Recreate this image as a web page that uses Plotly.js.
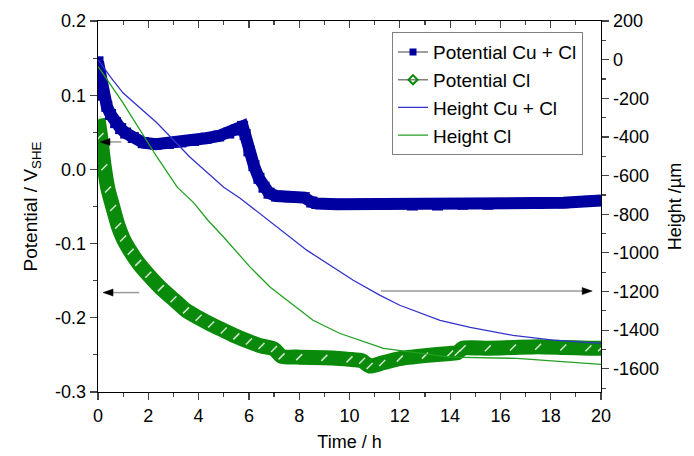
<!DOCTYPE html>
<html>
<head>
<meta charset="utf-8">
<script src="https://cdn.plot.ly/plotly-3.0.1.min.js"></script>
<style>html,body{margin:0;padding:0;background:#fff}#chart{width:694px;height:456px}</style>
</head>
<body>
<div id="chart"></div>
<script>
// Potential Cu + Cl (V_SHE)
var potCuTime = [0, 0.1, 0.2, 0.35, 0.5, 0.7, 0.9, 1.1, 1.4, 1.8, 2.3, 2.8, 3.3, 3.8, 4.3, 4.8, 5.2, 5.5, 5.75, 5.85, 6.0, 6.2, 6.4, 6.6, 6.8, 7.1, 7.6, 8.2, 8.5, 8.7, 9.5, 10.5, 11.5, 12.5, 13.5, 14.5, 15.5, 16.5, 17.5, 18.5, 19.5, 20];
var potCu = [0.145, 0.125, 0.100, 0.085, 0.074, 0.063, 0.055, 0.049, 0.043, 0.036, 0.034, 0.035, 0.037, 0.039, 0.042, 0.045, 0.049, 0.053, 0.058, 0.047, 0.025, 0.005, -0.012, -0.024, -0.032, -0.036, -0.037, -0.038, -0.044, -0.046, -0.047, -0.047, -0.047, -0.048, -0.048, -0.047, -0.047, -0.046, -0.046, -0.045, -0.043, -0.042];
// Potential Cl (V_SHE)
var potClTime = [0, 0.1, 0.25, 0.4, 0.6, 0.8, 1.0, 1.3, 1.6, 2.0, 2.5, 3.0, 3.5, 4.0, 4.5, 5.0, 5.5, 6.0, 6.5, 7.0, 7.3, 8.0, 9.0, 10.0, 10.5, 10.8, 11.3, 12.0, 13.0, 14.0, 14.3, 14.5, 15.5, 16.5, 17.5, 18.5, 19.5, 20];
var potCl = [0.068, 0.045, 0.003, -0.027, -0.052, -0.076, -0.093, -0.111, -0.126, -0.142, -0.160, -0.175, -0.190, -0.200, -0.209, -0.217, -0.225, -0.232, -0.238, -0.242, -0.252, -0.253, -0.254, -0.256, -0.258, -0.265, -0.261, -0.255, -0.251, -0.248, -0.247, -0.241, -0.241, -0.240, -0.239, -0.240, -0.241, -0.241];
// Height Cu + Cl (um)
var hCuTime = [0, 0.5, 1.0, 2.35, 3.66, 5.0, 5.65, 6.73, 8.3, 10.15, 11.2, 12.0, 13.6, 14.8, 16.5, 18.1, 20];
var hCu = [0, -90, -173, -328, -505, -660, -717, -825, -986, -1142, -1219, -1271, -1349, -1385, -1427, -1452, -1468];
// Height Cl (um)
var hClTime = [0, 1.0, 2.35, 3.15, 3.8, 4.37, 5.0, 6.05, 6.85, 8.55, 9.6, 11.35, 14.0, 16.65, 20];
var hCl = [-35, -225, -505, -660, -740, -831, -919, -1074, -1178, -1349, -1416, -1494, -1540, -1546, -1577];

var seriesNames = ['Potential Cu + Cl', 'Potential Cl', 'Height Cu + Cl', 'Height Cl'];
var xTicks = [0, 2, 4, 6, 8, 10, 12, 14, 16, 18, 20];
var yTicks = [0.2, 0.1, 0.0, -0.1, -0.2, -0.3];
var yTickText = ['0.2', '0.1', '0.0', '-0.1', '-0.2', '-0.3'];
var y2Ticks = [200, 0, -200, -400, -600, -800, -1000, -1200, -1400, -1600];
var y2TickText = ['200', '0', '-200', '-400', '-600', '-800', '-1000', '-1200', '-1400', '-1600'];

var BLUE = '#0000a0', GREEN = '#0a8a0a';
var FONT = 'Liberation Sans, Arial, sans-serif';

var traces = [
  {x: hCuTime, y: hCu, yaxis: 'y2', mode: 'lines', line: {color: '#3333cc', width: 1.3}, showlegend: false},
  {x: hClTime, y: hCl, yaxis: 'y2', mode: 'lines', line: {color: '#22a022', width: 1.3}, showlegend: false},
  {x: potClTime, y: potCl, mode: 'lines+markers', line: {color: GREEN, width: 15, shape: 'spline', smoothing: 0.6},
   marker: {symbol: 'line-ne', size: 6, color: '#cfe8cf', line: {width: 1.5, color: '#cfe8cf'}}, showlegend: false},
  {x: potCuTime, y: potCu, mode: 'lines+markers', line: {color: BLUE, width: 12},
   marker: {symbol: 'square', size: 11, color: BLUE}, showlegend: false},
  // legend entries
  {x: [null], y: [null], name: seriesNames[0], mode: 'lines+markers', line: {color: '#808080', width: 1.5}, marker: {symbol: 'square', size: 7, color: BLUE}},
  {x: [null], y: [null], name: seriesNames[1], mode: 'lines+markers', line: {color: '#808080', width: 1.5}, marker: {symbol: 'diamond-open', size: 7, color: GREEN, line: {width: 2}}},
  {x: [null], y: [null], name: seriesNames[2], mode: 'lines', line: {color: '#3333cc', width: 1.3}},
  {x: [null], y: [null], name: seriesNames[3], mode: 'lines', line: {color: '#22a022', width: 1.3}},
  // top axis carrier
  {x: [0], y: [null], xaxis: 'x2', mode: 'markers', showlegend: false, hoverinfo: 'skip'}
];

function arrowShaft(x0, x1, y) {
  return {type: 'line', xref: 'x', yref: 'y', x0: x0, x1: x1, y0: y, y1: y, line: {color: '#9a9a9a', width: 1.5}};
}
function arrowHead(x, y, dir) {
  // triangle in pixels anchored at the tip; dir = -1 points left, +1 points right
  var p = 'M0,0 L' + (-dir * 10) + ',-3.5 L' + (-dir * 10) + ',3.5 Z';
  return {type: 'path', xref: 'x', yref: 'y', xsizemode: 'pixel', ysizemode: 'pixel', xanchor: x, yanchor: y,
    path: p, fillcolor: '#000', line: {color: '#000', width: 0.5}};
}

var layout = {
  width: 694, height: 456,
  margin: {l: 98, r: 93, t: 21, b: 64},
  paper_bgcolor: '#fff', plot_bgcolor: '#fff',
  font: {family: FONT, size: 18, color: '#000'},
  showlegend: true,
  legend: {x: 0.5845, y: 0.97, xanchor: 'left', yanchor: 'top', bgcolor: '#fff', bordercolor: '#808080', borderwidth: 1,
    font: {size: 19, family: FONT}, itemwidth: 30, tracegroupgap: 0},
  xaxis: {range: [0, 20], tickvals: xTicks, ticktext: xTicks.map(String), ticks: 'outside', ticklen: 7, tickwidth: 1.2,
    minor: {dtick: 1, ticks: 'outside', ticklen: 4, tickwidth: 1.2}, showline: true, linecolor: '#000', linewidth: 1.3,
    showgrid: false, zeroline: false, title: {text: 'Time / h', font: {size: 18}, standoff: 10}},
  xaxis2: {range: [0, 20], overlaying: 'x', side: 'top', ticks: 'inside', ticklen: 7, tickwidth: 1.2, tickvals: xTicks,
    minor: {dtick: 1, ticks: 'inside', ticklen: 4, tickwidth: 1.2}, showticklabels: false, showline: true, linecolor: '#000', linewidth: 1.3,
    showgrid: false, zeroline: false},
  yaxis: {range: [-0.3, 0.2], tickvals: yTicks, ticktext: yTickText, ticks: 'outside', ticklen: 7, tickwidth: 1.2,
    minor: {dtick: 0.05, ticks: 'outside', ticklen: 4, tickwidth: 1.2}, showline: true, linecolor: '#000', linewidth: 1.3,
    showgrid: false, zeroline: false, title: {text: 'Potential / V<sub>SHE</sub>', font: {size: 19}, standoff: 12}},
  yaxis2: {range: [-1720, 200], overlaying: 'y', side: 'right', tickvals: y2Ticks, ticktext: y2TickText, ticks: 'outside', ticklen: 7, tickwidth: 1.2,
    minor: {dtick: 100, ticks: 'outside', ticklen: 4, tickwidth: 1.2}, showline: true, linecolor: '#000', linewidth: 1.3,
    showgrid: false, zeroline: false, title: {text: 'Height /µm', font: {size: 18}, standoff: 10}},
  shapes: [arrowShaft(0.4, 0.93, 0.037), arrowShaft(0.5, 1.64, -0.166), arrowShaft(11.25, 19.3, -0.164),
    arrowHead(0.08, 0.037, -1), arrowHead(0.2, -0.166, -1), arrowHead(19.65, -0.164, 1)]
};

Plotly.newPlot('chart', traces, layout, {displayModeBar: false, staticPlot: true});
</script>
</body>
</html>
